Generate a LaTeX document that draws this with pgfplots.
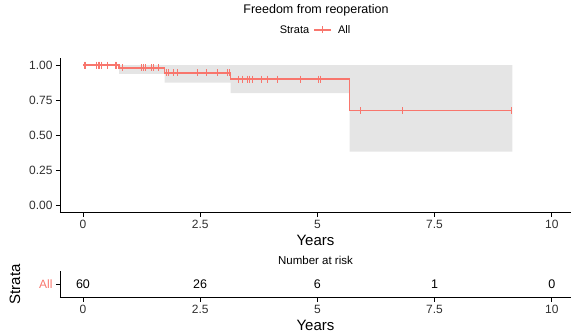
\documentclass[border=0pt]{standalone}
\usepackage{pgfplots}
\pgfplotsset{compat=1.18}
\usepackage{fontspec}
\setmainfont{Liberation Sans}
\definecolor{kmred}{HTML}{F8766D}
\definecolor{band}{HTML}{E5E5E5}
\definecolor{txt}{HTML}{303030}
\pgfplotsset{
  kmaxis/.style={
    scale only axis, anchor=south west, width=511pt,
    xmin=-0.49, xmax=10.41,
    axis lines*=left, axis line style={-, black, line width=0.7pt},
    tick align=outside, major tick length=4pt,
    tick style={black, line width=0.6pt},
    xtick={0,2.5,5,7.5,10}, xticklabels={0,2.5,5,7.5,10},
    ticklabel style={font=\fontsize{12}{13}\selectfont, text=txt},
    label style={font=\fontsize{15}{16}\selectfont, text=black},
    clip=false,
  }
}
\begin{document}
\begin{tikzpicture}
\path[use as bounding box] (0,0) rectangle (571pt,333pt);
\begin{axis}[kmaxis,
  at={(60pt,120.3pt)}, height=154.7pt,
  ymin=-0.05, ymax=1.05,
  ytick={0,0.25,0.5,0.75,1}, yticklabels={0.00,0.25,0.50,0.75,1.00},
  xlabel={Years},
  xlabel style={at={(axis description cs:0.5,-0.176)}, anchor=center},
  legend style={at={(axis description cs:0.49,1.181)}, anchor=west, draw=none, fill=none,
    font=\fontsize{11}{12}\selectfont, legend cell align=left, column sep=4pt},
]
\addplot[forget plot, fill=band, draw=none, const plot] coordinates {
  (0,1) (0.77,0.937) (1.74,0.875) (3.15,0.80) (5.69,0.385) (9.16,0.385) (9.16,1) (0,1)};
\addplot[forget plot, draw=kmred, color=kmred, line width=1.4pt, const plot, mark=none] coordinates {
  (0,1) (0.77,0.980) (1.74,0.944) (3.15,0.90) (5.69,0.676) (9.16,0.676)};
\addplot[forget plot, color=kmred, only marks, mark=|, mark size=3.5pt, mark options={line width=0.9pt}] coordinates {
  (0.03,1) (0.06,1) (0.29,1) (0.33,1) (0.36,1) (0.40,1) (0.53,1) (0.69,1) (0.72,1)
  (0.84,0.980) (1.24,0.980) (1.29,0.980) (1.33,0.980) (1.47,0.980) (1.51,0.980) (1.62,0.980)
  (1.78,0.944) (1.83,0.944) (1.92,0.944) (2.01,0.944) (2.45,0.944) (2.64,0.944) (2.87,0.944) (3.08,0.944) (3.12,0.944)
  (3.31,0.90) (3.41,0.90) (3.51,0.90) (3.56,0.90) (3.62,0.90) (3.80,0.90) (3.94,0.90) (4.14,0.90) (4.64,0.90) (5.03,0.90) (5.06,0.90)
  (5.91,0.676) (6.82,0.676) (9.14,0.676)};
\addlegendimage{color=kmred, line width=1.4pt, mark=|, mark size=3.5pt, mark options={line width=0.9pt}}
\addlegendentry{All}
\end{axis}
\node[font=\fontsize{11}{12}\selectfont, text=black] at (294.5pt,303pt) {Strata};
\node[font=\fontsize{12.5}{14}\selectfont, text=black] at (316pt,323pt) {Freedom from reoperation};
\begin{axis}[kmaxis,
  at={(60pt,35.3pt)}, height=26.7pt,
  ymin=0, ymax=2, ytick={1}, yticklabels={All},
  yticklabel style={text=kmred},
  xlabel={Years},
  xlabel style={at={(axis description cs:0.5,-1.022)}, anchor=center},
  ylabel={Strata},
  ylabel style={at={(axis description cs:-0.088,0.5)}, anchor=center},
  title={Number at risk},
  title style={at={(axis description cs:0.5,1)}, anchor=base, yshift=1pt, font=\fontsize{11.5}{13}\selectfont},
]
\addplot[draw=none, nodes near coords, point meta=explicit symbolic,
  nodes near coords align=center,
  nodes near coords style={font=\fontsize{12.5}{13}\selectfont, text=black}]
  table[meta=n, row sep=\\] {x y n\\ 0 1 60\\ 2.5 1 26\\ 5 1 6\\ 7.5 1 1\\ 10 1 0\\};
\end{axis}
\end{tikzpicture}
\end{document}
